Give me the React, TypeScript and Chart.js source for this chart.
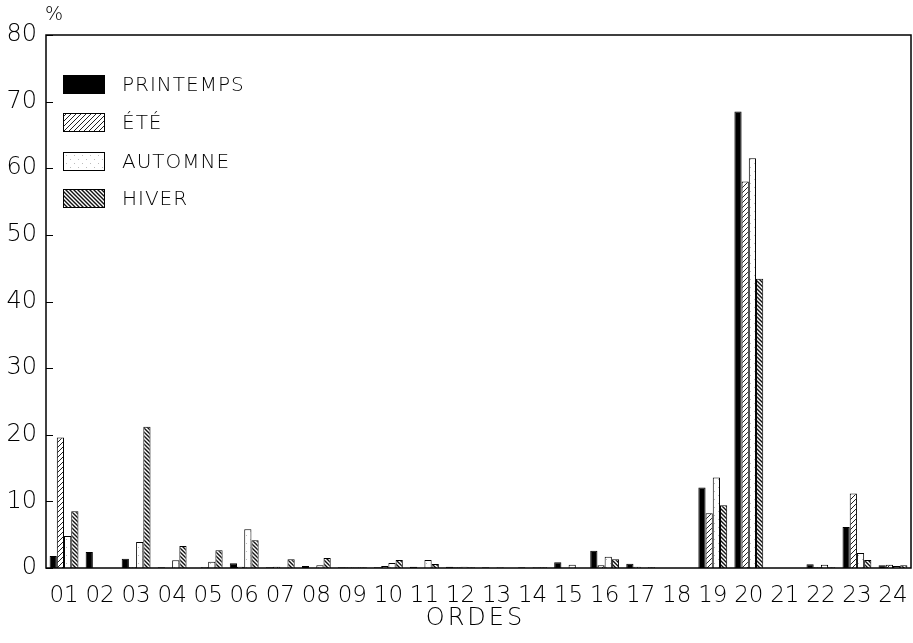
import React, { useEffect, useRef } from 'react';
import { Chart, registerables } from 'chart.js';

Chart.register(...registerables);

const CATEGORIES = ['01','02','03','04','05','06','07','08','09','10','11','12','13','14','15','16','17','18','19','20','21','22','23','24'];
const SERIES_NAMES = ['PRINTEMPS', 'ÉTÉ', 'AUTOMNE', 'HIVER'];
const PRINTEMPS = [1.8, 2.4, 1.4, 0.1, 0, 0.7, 0.1, 0.3, 0.1, 0.1, 0.2, 0.2, 0.1, 0.1, 0.85, 2.6, 0.65, 0, 12.1, 68.5, 0, 0.55, 6.15, 0.4];
const ETE = [19.6, 0, 0.1, 0, 0.1, 0.2, 0.2, 0, 0.1, 0.3, 0, 0.1, 0, 0, 0, 0.4, 0.2, 0, 8.2, 58.0, 0, 0.1, 11.2, 0.5];
const AUTOMNE = [4.8, 0, 3.9, 1.15, 0.95, 5.8, 0, 0.4, 0.1, 0.75, 1.2, 0.2, 0.1, 0.1, 0.5, 1.7, 0, 0, 13.6, 61.5, 0, 0.5, 2.25, 0.3];
const HIVER = [8.5, 0, 21.2, 3.3, 2.65, 4.15, 1.3, 1.5, 0.1, 1.2, 0.6, 0.1, 0, 0.1, 0, 1.3, 0.1, 0, 9.4, 43.4, 0, 0.1, 1.2, 0.4];
const Y_TICKS = [0, 10, 20, 30, 40, 50, 60, 70, 80];
const X_TITLE = 'ORDES';
const Y_UNIT = '%';

const FONT = "'DejaVu Sans', 'Liberation Sans', sans-serif";
const WEIGHT = 200;

function makePattern(kind: string): CanvasPattern | string {
  const c = document.createElement('canvas');
  const ctx = c.getContext('2d')!;
  if (kind === 'ete') {
    const s = 5;
    c.width = s; c.height = s;
    ctx.fillStyle = '#fff';
    ctx.fillRect(0, 0, s, s);
    ctx.strokeStyle = '#222';
    ctx.lineWidth = 1;
    ctx.beginPath();
    ctx.moveTo(0, s); ctx.lineTo(s, 0);
    ctx.moveTo(-1, 1); ctx.lineTo(1, -1);
    ctx.moveTo(s - 1, s + 1); ctx.lineTo(s + 1, s - 1);
    ctx.stroke();
  } else if (kind === 'hiver') {
    const s = 4;
    c.width = s; c.height = s;
    ctx.fillStyle = '#fff';
    ctx.fillRect(0, 0, s, s);
    ctx.strokeStyle = '#111';
    ctx.lineWidth = 1.4;
    ctx.beginPath();
    ctx.moveTo(0, 0); ctx.lineTo(s, s);
    ctx.moveTo(-1, s - 1); ctx.lineTo(1, s + 1);
    ctx.moveTo(s - 1, -1); ctx.lineTo(s + 1, 1);
    ctx.stroke();
  } else if (kind === 'automne') {
    const s = 8;
    c.width = s; c.height = s;
    ctx.fillStyle = '#fff';
    ctx.fillRect(0, 0, s, s);
    ctx.fillStyle = '#bbb';
    ctx.fillRect(2, 3, 1, 1);
    ctx.fillRect(6, 7, 1, 1);
  } else {
    return '#000';
  }
  return ctx.createPattern(c, 'repeat') || '#fff';
}

export default function App() {
  const ref = useRef<HTMLCanvasElement>(null);

  useEffect(() => {
    if (!ref.current) return;
    const fills = [makePattern('printemps'), makePattern('ete'), makePattern('automne'), makePattern('hiver')];
    const values = [PRINTEMPS, ETE, AUTOMNE, HIVER];

    const framePlugin = {
      id: 'frame',
      beforeDraw(chart: any) {
        chart.ctx.letterSpacing = '0px';
      },
      afterDraw(chart: any) {
        const { ctx, chartArea } = chart;
        const { left, right, top, bottom } = chartArea;
        ctx.save();
        ctx.strokeStyle = '#000';
        ctx.lineWidth = 1.5;
        ctx.strokeRect(left, top, right - left, bottom - top);
        // inward y ticks
        const y = chart.scales.y;
        ctx.lineWidth = 1;
        Y_TICKS.forEach((v) => {
          const py = Math.round(y.getPixelForValue(v)) + 0.5;
          ctx.beginPath();
          ctx.moveTo(left, py);
          ctx.lineTo(left + 7, py);
          ctx.stroke();
        });
        // percent sign
        ctx.fillStyle = '#000';
        ctx.font = `${WEIGHT} 19px ${FONT}`;
        ctx.textAlign = 'left';
        ctx.textBaseline = 'middle';
        ctx.fillText(Y_UNIT, left - 1, top - 20);
        // x title
        ctx.font = `${WEIGHT} 24px ${FONT}`;
        ctx.letterSpacing = '3px';
        ctx.textAlign = 'center';
        ctx.fillText(X_TITLE, 474 + 1.5, 619);
        // legend
        const bx = left + 17;
        const bw = 42;
        const bh = 19;
        const rowTop = [75, 113, 152, 189];
        ctx.letterSpacing = '1px';
        ctx.textAlign = 'left';
        chart.data.datasets.forEach((ds: any, i: number) => {
          const by = rowTop[i];
          ctx.fillStyle = ds.backgroundColor;
          ctx.fillRect(bx, by, bw, bh);
          ctx.lineWidth = 1;
          ctx.strokeStyle = '#000';
          ctx.strokeRect(bx + 0.5, by + 0.5, bw - 1, bh - 1);
          ctx.fillStyle = '#000';
          ctx.font = `${WEIGHT} 20px ${FONT}`;
          ctx.textBaseline = 'middle';
          ctx.fillText(ds.label, 122, by + bh / 2 + 1);
        });
        ctx.letterSpacing = '0px';
        ctx.restore();
      },
    };

    const chart = new Chart(ref.current, {
      type: 'bar',
      data: {
        labels: CATEGORIES,
        datasets: SERIES_NAMES.map((name, i) => ({
          label: name,
          data: values[i],
          backgroundColor: fills[i] as any,
          borderColor: '#000',
          borderWidth: 1,
          categoryPercentage: 0.8,
          barPercentage: 1.0,
        })),
      },
      options: {
        animation: false,
        responsive: false,
        layout: { padding: { top: 35, right: 2, left: 0, bottom: 0 } },
        plugins: {
          legend: { display: false },
          tooltip: { enabled: false },
        },
        scales: {
          x: {
            grid: { display: false, drawTicks: false },
            border: { display: false },
            ticks: { color: '#000', font: { family: FONT, size: 23, weight: WEIGHT as any }, padding: 14, maxRotation: 0, autoSkip: false },
            afterFit: (scale: any) => {
              scale.height = 75;
              scale.paddingLeft = 0;
              scale.paddingRight = 0;
            },
          },
          y: {
            min: 0,
            max: 80,
            grid: { display: false, drawTicks: false },
            border: { display: false },
            ticks: { stepSize: 10, color: '#000', font: { family: FONT, size: 24, weight: WEIGHT as any }, padding: 9 },
            afterFit: (scale: any) => { scale.width = 46; },
          },
        },
      },
      plugins: [framePlugin],
    });
    return () => chart.destroy();
  }, []);

  return (
    <div style={{ position: 'absolute', left: 0, top: 0, width: 913, height: 643, background: '#fff' }}>
      <canvas ref={ref} width={913} height={643} />
    </div>
  );
}
